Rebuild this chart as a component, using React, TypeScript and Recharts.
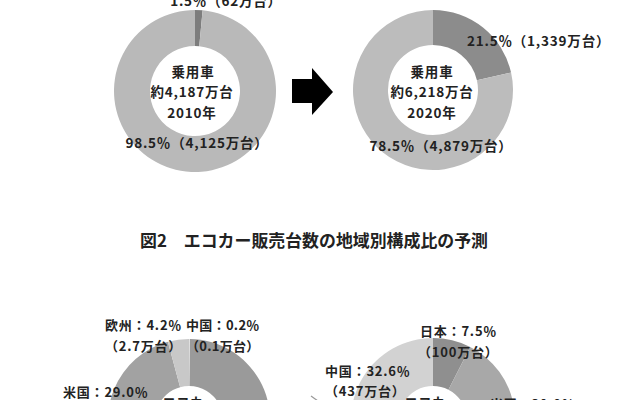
import React from 'react';
import { PieChart, Pie, Cell } from 'recharts';

// 乗用車に占めるエコカーの比率 (%)
const carNames = ['エコカー', 'その他'];
const car2010 = [1.5, 98.5];
const car2020 = [21.5, 78.5];
const carLabels2010 = ['1.5％（62万台）', '98.5％（4,125万台）'];
const carLabels2020 = ['21.5％（1,339万台）', '78.5％（4,879万台）'];
const carTotals = ['約4,187万台', '約6,218万台'];
const years = ['2010年', '2020年'];

// エコカー販売台数の地域別構成比 (%), 12時から時計回り
const regions2010 = ['中国', '日本', '米国', '欧州'];
const eco2010 = [0.2, 66.6, 29.0, 4.2];
const regions2020 = ['日本', '米国', '欧州', '中国'];
const eco2020 = [7.5, 30.0, 29.9, 32.6];

const title = '図2　エコカー販売台数の地域別構成比の予測';

const carColors2010 = ['#7d7d7d', '#b9b9b9'];
const carColors2020 = ['#8c8c8c', '#bcbcbc'];
const ecoColors2010 = ['#e2e2e2', '#9a9a9a', '#a2a2a2', '#c8c8c8'];
const ecoColors2020 = ['#8f8f8f', '#a8a8a8', '#b6b6b6', '#d2d2d2'];

const toRows = (names: string[], values: number[]) =>
  names.map((name, i) => ({ name, value: values[i] }));

const pct = (names: string[], values: number[], i: number) =>
  `${names[i]}：${values[i].toFixed(1)}％`;

const txt = {
  fill: '#222',
  fontSize: 13.5,
  fontWeight: 700,
  letterSpacing: 0.8,
  fontFamily: '"Noto Sans CJK JP", sans-serif',
  dominantBaseline: 'central' as const,
};

function Donut({ rows, colors, cx, cy, inner, outer }: any) {
  return (
    <Pie
      data={rows}
      dataKey="value"
      nameKey="name"
      cx={cx}
      cy={cy}
      innerRadius={inner}
      outerRadius={outer}
      startAngle={90}
      endAngle={-270}
      stroke="none"
      isAnimationActive={false}
    >
      {rows.map((r: any, i: number) => (
        <Cell key={r.name} fill={colors[i]} />
      ))}
    </Pie>
  );
}

export default function App() {
  return (
    <div style={{ position: 'fixed', left: 0, top: 0, width: 640, height: 400, background: '#fff' }}>
      <PieChart width={640} height={400} margin={{ top: 0, right: 0, bottom: 0, left: 0 }}>
        {Donut({ rows: toRows(carNames, car2010), colors: carColors2010, cx: 195, cy: 91, inner: 45, outer: 81 })}
        {Donut({ rows: toRows(carNames, car2020), colors: carColors2020, cx: 433, cy: 90, inner: 45, outer: 80 })}
        {Donut({ rows: toRows(regions2010, eco2010), colors: ecoColors2010, cx: 189, cy: 420, inner: 34, outer: 81 })}
        {Donut({ rows: toRows(regions2020, eco2020), colors: ecoColors2020, cx: 433, cy: 420, inner: 34, outer: 82 })}
      </PieChart>

      {/* ラベルと矢印 */}
      <svg width={640} height={400} style={{ position: 'absolute', left: 0, top: 0, pointerEvents: 'none' }}>
        <text {...txt} x={226} y={0} textAnchor="middle">{carLabels2010[0]}</text>
        <text {...txt} x={193} y={71} textAnchor="middle">乗用車</text>
        <text {...txt} x={192} y={91} textAnchor="middle">{carTotals[0]}</text>
        <text {...txt} x={192} y={112} textAnchor="middle">{years[0]}</text>
        <text {...txt} x={197} y={142} textAnchor="middle">{carLabels2010[1]}</text>

        <text {...txt} x={467} y={40} textAnchor="start">{carLabels2020[0]}</text>
        <text {...txt} x={432} y={71} textAnchor="middle">乗用車</text>
        <text {...txt} x={432} y={91} textAnchor="middle">{carTotals[1]}</text>
        <text {...txt} x={432} y={112} textAnchor="middle">{years[1]}</text>
        <text {...txt} x={441} y={145} textAnchor="middle">{carLabels2020[1]}</text>

        <polygon points="292,79 312,79 312,68 333,92 312,115 312,103 292,103" fill="#000" />

        <text {...txt} letterSpacing={0} x={140} y={239} fontSize={17} textLength={348} lengthAdjust="spacingAndGlyphs">{title}</text>

        <text {...txt} fontSize={13} x={105} y={324}>{pct(regions2010, eco2010, 3)}</text>
        <text {...txt} fontSize={13} x={105} y={345}>（2.7万台）</text>
        <text {...txt} fontSize={13} x={186} y={324} letterSpacing={0.3}>{pct(regions2010, eco2010, 0)}</text>
        <text {...txt} fontSize={13} x={186} y={345} letterSpacing={0.3}>（0.1万台）</text>
        <text {...txt} fontSize={13} x={63} y={391}>{pct(regions2010, eco2010, 2)}</text>
        <text {...txt} fontSize={13} x={190} y={401} textAnchor="middle">エコカー</text>

        <line x1={311} y1={396} x2={318} y2={401} stroke="#999" strokeWidth={1.2} />

        <text {...txt} fontSize={13} x={420} y={330}>{pct(regions2020, eco2020, 0)}</text>
        <text {...txt} fontSize={13} x={418} y={351}>（100万台）</text>
        <text {...txt} fontSize={13} x={325} y={370}>{pct(regions2020, eco2020, 3)}</text>
        <text {...txt} fontSize={13} x={325} y={390}>（437万台）</text>
        <text {...txt} fontSize={13} x={432} y={401} textAnchor="middle">エコカー</text>
        <text {...txt} fontSize={13} x={490} y={403}>{pct(regions2020, eco2020, 1)}</text>
      </svg>
    </div>
  );
}
